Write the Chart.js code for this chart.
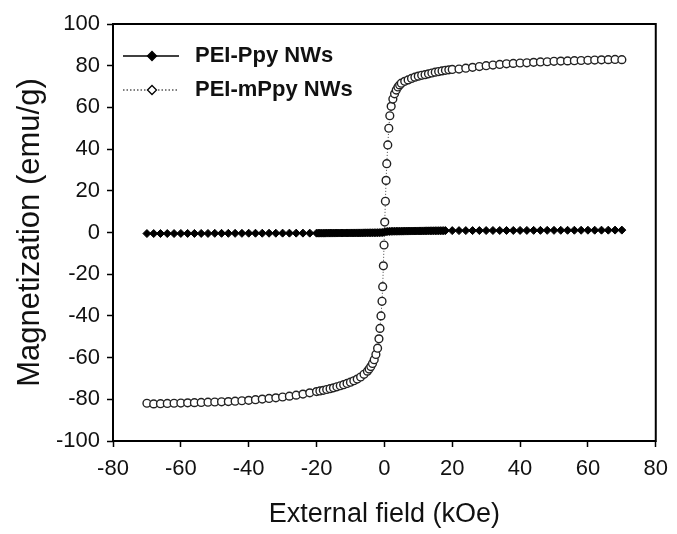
<!DOCTYPE html>
<html><head><meta charset="utf-8">
<script src="https://cdn.jsdelivr.net/npm/chart.js@4"></script>
<style>html,body{margin:0;padding:0;background:#fff;overflow:hidden}</style>
</head><body>
<canvas id="c" width="677" height="534"></canvas>
<script>
// ---- data ----
const seriesNames = ['PEI-Ppy NWs', 'PEI-mPpy NWs'];
const xTitle = 'External field (kOe)';
const yTitle = 'Magnetization (emu/g)';
const xTicks = [-80, -60, -40, -20, 0, 20, 40, 60, 80];
const yTicks = [-100, -80, -60, -40, -20, 0, 20, 40, 60, 80, 100];

// PEI-Ppy NWs (filled diamonds, solid line)
const fieldPpy = [-70,-68,-66,-64,-62,-60,-58,-56,-54,-52,-50,-48,-46,-44,-42,-40,-38,-36,-34,-32,-30,-28,-26,-24,-22,
  -20,-19.5,-19,-18.5,-18,-17.5,-17,-16.5,-16,-15.5,
  -15,-14.5,-14,-13.5,-13,-12.5,-12,-11.5,-11,-10.5,
  -10,-9.5,-9,-8.5,-8,-7.5,-7,-6.5,-6,-5.5,
  -5,-4.5,-4,-3.5,-3,-2.5,-2,-1.5,-1,-0.5,
  0,
  0.5,1,1.5,2,2.5,3,3.5,4,4.5,5,
  5.5,6,6.5,7,7.5,8,8.5,9,9.5,10,
  10.5,11,11.5,12,12.5,13,13.5,14,14.5,15,
  15.5,16,16.5,17,17.5,18,
  20,22,24,26,28,30,32,34,36,38,40,42,44,46,48,50,52,54,56,58,60,62,64,66,68,70];
const magPpy = [-0.5,-0.5,-0.5,-0.5,-0.5,-0.45,-0.45,-0.45,-0.45,-0.45,-0.4,-0.4,-0.4,-0.4,-0.4,-0.35,-0.35,-0.35,-0.35,-0.35,-0.3,-0.3,-0.3,-0.3,-0.3,
  -0.3,-0.3,-0.3,-0.3,-0.3,-0.3,-0.29,-0.29,-0.28,-0.28,
  -0.27,-0.27,-0.26,-0.26,-0.25,-0.25,-0.24,-0.24,-0.23,-0.23,
  -0.22,-0.22,-0.21,-0.21,-0.2,-0.2,-0.19,-0.18,-0.17,-0.16,
  -0.15,-0.14,-0.13,-0.12,-0.11,-0.1,-0.08,-0.06,-0.04,0.0,
  0.2,
  0.4,0.5,0.53,0.55,0.57,0.6,0.61,0.62,0.63,0.64,
  0.65,0.66,0.67,0.68,0.69,0.7,0.71,0.72,0.73,0.74,
  0.75,0.76,0.77,0.78,0.79,0.8,0.81,0.82,0.83,0.84,
  0.85,0.86,0.87,0.88,0.89,0.9,
  0.9,0.9,0.92,0.92,0.94,0.94,0.96,0.96,0.98,0.98,1.0,1.0,1.02,1.02,1.04,1.04,1.06,1.06,1.08,1.08,1.1,1.1,1.12,1.12,1.14,1.14];

// PEI-mPpy NWs (open markers, dotted line)
const fieldMPpy = [-70,-68,-66,-64,-62,-60,-58,-56,-54,-52,-50,-48,-46,-44,-42,-40,-38,-36,-34,-32,-30,-28,-26,-24,-22,
  -20,-19,-18,-17,-16,-15,-14,-13,-12,-11,-10,-9,-8,-7,-6,-5,-4.5,-4,-3.5,-3,-2.5,-2,-1.6,-1.3,-1,-0.7,-0.5,-0.3,-0.1,
  0.1,0.3,0.5,0.7,1,1.3,1.6,2,2.5,3,3.5,4,4.5,5,6,7,8,9,10,11,12,13,14,15,16,17,18,19,20,
  22,24,26,28,30,32,34,36,38,40,42,44,46,48,50,52,54,56,58,60,62,64,66,68,70];
const magMPpy = [-81.9,-82.2,-82.1,-82.0,-81.9,-81.8,-81.7,-81.6,-81.5,-81.4,-81.3,-81.2,-81.1,-80.9,-80.7,-80.5,-80.2,-79.9,-79.6,-79.3,-78.9,-78.5,-78.0,-77.5,-76.9,
  -76.3,-76.0,-75.7,-75.3,-74.9,-74.5,-74.0,-73.5,-73.0,-72.4,-71.8,-71.1,-70.3,-69.3,-68.0,-66.5,-65.5,-64.3,-62.8,-61.0,-58.5,-55.5,-51,-46,-40,-33,-26,-16,-6,
  5,15,25,33,42,50,56,60.5,64,66.5,68.3,69.8,70.8,71.6,72.5,73.2,73.9,74.5,75.0,75.4,75.7,76.1,76.5,76.9,77.2,77.5,77.8,78.0,78.2,
  78.4,78.8,79.2,79.6,80.0,80.3,80.6,80.9,81.1,81.3,81.4,81.6,81.8,81.9,82.1,82.2,82.3,82.4,82.5,82.6,82.7,82.8,82.9,83.0,82.9];

// ---- chart ----
const FONT = "'Liberation Sans', Arial, Helvetica, sans-serif";
const toPts = (xs, ys) => xs.map((x, i) => ({x: x, y: ys[i]}));

const framePlugin = {
  id: 'frame',
  afterDatasetsDraw(chart) {
    const a = chart.chartArea, ctx = chart.ctx;
    ctx.save();
    ctx.strokeStyle = '#000';
    ctx.lineWidth = 2;
    ctx.strokeRect(a.left, a.top, a.right - a.left, a.bottom - a.top);
    ctx.restore();
  }
};

const legendPlugin = {
  id: 'boxLegend',
  afterDraw(chart) {
    const a = chart.chartArea, ctx = chart.ctx;
    ctx.save();
    const rows = [a.top + 32, a.top + 66];
    chart.data.datasets.forEach((ds, i) => {
      const y = rows[i];
      const filled = ds.pointBackgroundColor === '#000';
      const x0 = a.left + 10, x1 = a.left + 66, xm = a.left + 39;
      ctx.strokeStyle = '#000';
      ctx.lineWidth = filled ? 1.5 : 1.2;
      ctx.setLineDash(filled ? [] : [1.5, 2]);
      ctx.beginPath(); ctx.moveTo(x0, y); ctx.lineTo(x1, y); ctx.stroke();
      ctx.setLineDash([]);
      ctx.fillStyle = filled ? '#000' : '#fff';
      ctx.lineWidth = 1.3;
      Chart.helpers.drawPoint(ctx, {pointStyle: 'rectRot', radius: 4.5, borderWidth: 1.3}, xm, y);
      ctx.fillStyle = '#111';
      ctx.font = 'bold 22px ' + FONT;
      ctx.textBaseline = 'middle';
      ctx.textAlign = 'left';
      ctx.fillText(ds.label, a.left + 82, y);
    });
    ctx.restore();
  }
};

new Chart(document.getElementById('c'), {
  type: 'scatter',
  data: {
    datasets: [
      {
        label: seriesNames[0],
        data: toPts(fieldPpy, magPpy),
        showLine: true,
        borderColor: '#000',
        borderWidth: 1.5,
        pointStyle: 'rectRot',
        pointRadius: 4,
        pointBorderWidth: 1,
        pointBorderColor: '#000',
        pointBackgroundColor: '#000',
        order: 1
      },
      {
        label: seriesNames[1],
        data: toPts(fieldMPpy, magMPpy),
        showLine: true,
        borderColor: '#444',
        borderWidth: 1,
        borderDash: [1, 2],
        pointStyle: 'circle',
        pointRadius: 3.9,
        pointBorderWidth: 1.4,
        pointBorderColor: '#222',
        pointBackgroundColor: '#fff',
        order: 2
      }
    ]
  },
  options: {
    responsive: false,
    animation: false,
    devicePixelRatio: 1,
    layout: {padding: {top: 24, right: 18, left: 0, bottom: 0}},
    plugins: {legend: {display: false}, tooltip: {enabled: false}},
    scales: {
      x: {
        type: 'linear', min: -80, max: 80,
        afterBuildTicks: s => { s.ticks = xTicks.map(v => ({value: v})); },
        afterFit: s => { s.height = 93; },
        grid: {display: true, drawOnChartArea: false, drawTicks: true, tickLength: 6, tickColor: '#000', tickWidth: 1.5},
        border: {display: false},
        ticks: {color: '#111', font: {family: FONT, size: 22, lineHeight: 1.2}, padding: 9, maxRotation: 0},
        title: {display: true, text: xTitle, color: '#111', font: {family: FONT, size: 27, lineHeight: 1.2}, padding: {top: 0, bottom: 3}}
      },
      y: {
        type: 'linear', min: -100, max: 100,
        afterBuildTicks: s => { s.ticks = yTicks.map(v => ({value: v})); },
        afterFit: s => { s.width = 113; },
        grid: {display: true, drawOnChartArea: false, drawTicks: true, tickLength: 6, tickColor: '#000', tickWidth: 1.5},
        border: {display: false},
        ticks: {color: '#111', font: {family: FONT, size: 22, lineHeight: 1.2}, padding: 7},
        title: {display: true, text: yTitle, color: '#111', font: {family: FONT, size: 31, lineHeight: 1.2}, padding: {top: 12, bottom: 0}}
      }
    }
  },
  plugins: [framePlugin, legendPlugin]
});
</script>
</body></html>
